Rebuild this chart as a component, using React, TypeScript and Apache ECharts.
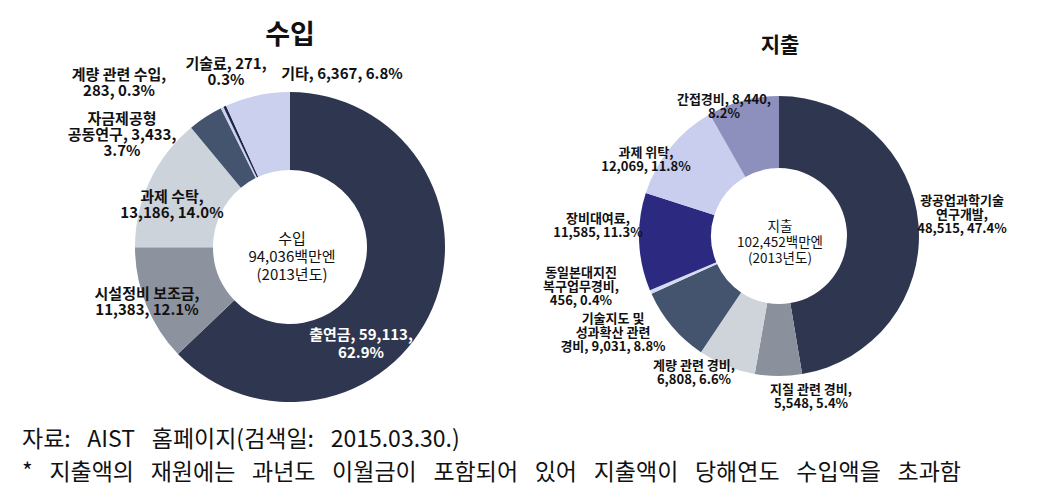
import React, { useEffect, useRef } from "react";
import * as echarts from "echarts";

// ---- data ----
const incomeTitle = "수입";
const incomeCategories = [
  "출연금",
  "시설정비 보조금",
  "과제 수탁",
  "자금제공형\n공동연구",
  "계량 관련 수입",
  "기술료",
  "기타",
];
const incomeValues = [59113, 11383, 13186, 3433, 283, 271, 6367];

const expenseTitle = "지출";
const expenseCategories = [
  "광공업과학기술\n연구개발",
  "지질 관련 경비",
  "계량 관련 경비",
  "기술지도 및\n성과확산 관련\n경비",
  "동일본대지진\n복구업무경비",
  "장비대여료",
  "과제 위탁",
  "간접경비",
];
const expenseValues = [48515, 5548, 6808, 9031, 456, 11585, 12069, 8440];

const unitLabel = "백만엔";
const yearLabel = "(2013년도)";
const sourceNote = "자료: AIST 홈페이지(검색일: 2015.03.30.)";
const footNote = "* 지출액의 재원에는 과년도 이월금이 포함되어 있어 지출액이 당해연도 수입액을 초과함";

// ---- styles / layout ----
const incomeColors = ["#2f3750", "#8c939e", "#cdd3da", "#44546e", "#c9d1ec", "#1f2648", "#cbd0ee"];
const expenseColors = ["#2f3750", "#8a919c", "#cfd4db", "#44546e", "#d5dbf0", "#2c2a80", "#c9cdee", "#8d8fbd"];
// line breaks: [after name, after value]
const incomeBreaks = [
  [false, true],
  [true, false],
  [true, false],
  [false, true],
  [true, false],
  [false, true],
  [false, false],
];
const expenseBreaks = [
  [true, false],
  [true, false],
  [true, false],
  [false, false],
  [true, false],
  [true, false],
  [true, false],
  [false, true],
];
const incomeLabelPos = [
  [361, 342],
  [147, 300],
  [172, 203],
  [122, 133],
  [119, 81],
  [226, 70],
  [342, 72],
];
const expenseLabelPos = [
  [962, 213],
  [811, 395],
  [694, 371],
  [613, 331],
  [581, 285],
  [598, 224],
  [646, 158],
  [724, 105],
];

const FONT = "'Noto Sans CJK KR', 'Noto Sans', sans-serif";
const fmt = (n: number) => n.toLocaleString("en-US");
const sum = (a: number[]) => a.reduce((s, v) => s + v, 0);
// the footnote font sets words apart with wide gaps
const widen = (s: string) => s.split(" ").join("\u2002 ");

function makeLabel(name: string, value: number, total: number, br: boolean[]) {
  const pct = ((value / total) * 100).toFixed(1) + "%";
  return name + "," + (br[0] ? "\n" : " ") + fmt(value) + "," + (br[1] ? "\n" : " ") + pct;
}

export default function App() {
  const ref = useRef<HTMLDivElement>(null);
  useEffect(() => {
    document.body.style.margin = "0";
    if (!ref.current) return;
    const chart = echarts.init(ref.current, undefined, { renderer: "svg" });
    const incTotal = sum(incomeValues);
    const expTotal = sum(expenseValues);

    const incData = incomeCategories.map((name, i) => ({
      name,
      value: incomeValues[i],
      itemStyle: { color: incomeColors[i] },
      label: i === 0 ? { color: "#ffffff", lineHeight: 18 } : undefined,
    }));
    const expData = expenseCategories.map((name, i) => ({
      name,
      value: expenseValues[i],
      itemStyle: { color: expenseColors[i] },
    }));

    chart.setOption({
      animation: false,
      graphic: [
        {
          type: "text",
          x: 290,
          y: 32,
          style: { text: incomeTitle, font: `bold 27px ${FONT}`, fill: "#111", align: "center", verticalAlign: "middle" },
        },
        {
          type: "text",
          x: 780,
          y: 43,
          style: { text: expenseTitle, font: `bold 21px ${FONT}`, fill: "#111", align: "center", verticalAlign: "middle" },
        },
        {
          type: "text",
          x: 292,
          y: 255,
          style: {
            text: incomeTitle + "\n" + fmt(incTotal) + unitLabel + "\n" + yearLabel,
            font: `15px ${FONT}`,
            lineHeight: 18,
            fill: "#111",
            align: "center",
            verticalAlign: "middle",
          },
        },
        {
          type: "text",
          x: 780,
          y: 241,
          style: {
            text: expenseTitle + "\n" + fmt(expTotal) + unitLabel + "\n" + yearLabel,
            font: `13.5px ${FONT}`,
            lineHeight: 16,
            fill: "#111",
            align: "center",
            verticalAlign: "middle",
          },
        },
        {
          type: "text",
          x: 22,
          y: 437,
          style: { text: widen(sourceNote), font: `23px ${FONT}`, fill: "#111", align: "left", verticalAlign: "middle" },
        },
        {
          type: "text",
          x: 22,
          y: 470,
          style: { text: widen(footNote), font: `23px ${FONT}`, fill: "#111", align: "left", verticalAlign: "middle" },
        },
      ],
      series: [
        {
          type: "pie",
          center: [290, 247],
          radius: [77, 155],
          startAngle: 90,
          clockwise: true,
          avoidLabelOverlap: false,
          emphasis: { disabled: true },
          itemStyle: { borderWidth: 0 },
          data: incData,
          label: {
            show: true,
            position: "outside",
            formatter: (p: any) => makeLabel(p.name, p.value, incTotal, incomeBreaks[p.dataIndex]),
            fontFamily: FONT,
            fontSize: 15,
            fontWeight: "bold",
            lineHeight: 16,
            color: "#111",
            align: "center",
          },
          labelLine: { show: false },
          labelLayout: (p: any) => ({
            x: incomeLabelPos[p.dataIndex][0],
            y: incomeLabelPos[p.dataIndex][1],
            align: "center",
            verticalAlign: "middle",
          }),
        },
        {
          type: "pie",
          center: [779, 236],
          radius: [68, 140],
          startAngle: 90,
          clockwise: true,
          avoidLabelOverlap: false,
          emphasis: { disabled: true },
          itemStyle: { borderWidth: 0 },
          data: expData,
          label: {
            show: true,
            position: "outside",
            formatter: (p: any) => makeLabel(p.name, p.value, expTotal, expenseBreaks[p.dataIndex]),
            fontFamily: FONT,
            fontSize: 13,
            fontWeight: "bold",
            lineHeight: 14,
            color: "#111",
            align: "center",
          },
          labelLine: { show: false },
          labelLayout: (p: any) => ({
            x: expenseLabelPos[p.dataIndex][0],
            y: expenseLabelPos[p.dataIndex][1],
            align: "center",
            verticalAlign: "middle",
          }),
        },
      ],
    });
    return () => chart.dispose();
  }, []);
  return <div ref={ref} style={{ width: 1039, height: 498 }} />;
}
